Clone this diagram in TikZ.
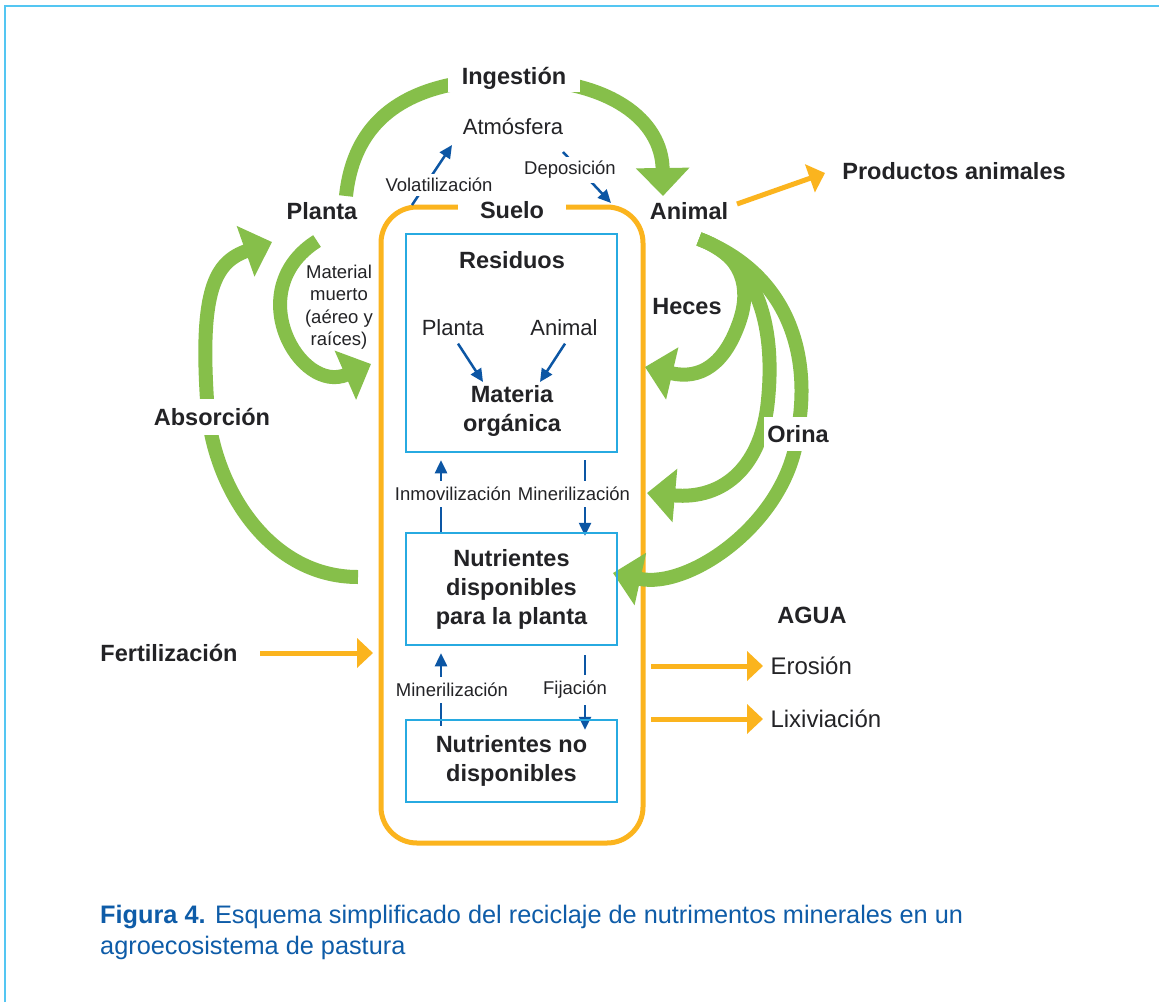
\documentclass[tikz,border=0pt]{standalone}
\usepackage{fontspec}
\setmainfont{Liberation Sans}
\usetikzlibrary{positioning}
\usetikzlibrary{arrows.meta}
\usepackage{xcolor}
\definecolor{leafgreen}{RGB}{134,191,74}
\definecolor{soilorange}{RGB}{251,180,30}
\definecolor{boxblue}{RGB}{39,170,225}
\definecolor{framecyan}{RGB}{84,198,242}
\definecolor{arrowblue}{RGB}{12,86,164}
\definecolor{captionblue}{RGB}{14,92,168}
\definecolor{ink}{RGB}{35,35,38}
\pgfdeclarelayer{soil}
\pgfdeclarelayer{flows}
\pgfsetlayers{soil,flows,main}

\begin{document}
\begin{tikzpicture}[x=1pt, y=-1pt,
	lb/.style={font=\bfseries\fontsize{23.5}{29}\selectfont, text=ink},
	lr/.style={font=\fontsize{22}{27}\selectfont, text=ink},
	lw/.style={font=\fontsize{24}{29}\selectfont, text=ink},
	ls/.style={font=\fontsize{18.5}{22.5}\selectfont, text=ink},
	bx/.style={draw=boxblue, line width=2.5pt, minimum width=211pt},
	gflow/.style={draw=leafgreen, line width=14pt, -{Triangle[width=52pt, length=28pt]}},
	oflow/.style={draw=soilorange, line width=5pt, -{Triangle[width=29pt, length=16pt]}},
	bflow/.style={draw=arrowblue, line width=2.5pt, -{Triangle[width=12pt, length=13pt]}},
	figcap/.style={font=\fontsize{25.3}{31}\selectfont, text=captionblue, anchor=base west, inner sep=0pt}
	]
	\useasboundingbox (0,0) rectangle (1159,1002);

	%Frame and soil
	\begin{pgfonlayer}{soil}
		\fill[white] (0,0) rectangle (1159,1002);
		\draw[framecyan, line width=2.2pt] (5,1002) -- (5,6) -- (1159,6);
		\node[draw=soilorange, line width=5pt, rounded corners=36pt, minimum width=262pt, minimum height=636pt, inner sep=0pt] (suelobox) at (512,525) {};
	\end{pgfonlayer}

	%Nodes
	\node[lb, fill=white, inner xsep=22pt, inner ysep=3pt] (suelo) at (512,210) {Suelo};
	\node[lb, fill=white, inner xsep=14pt] (ingestion) at (514,78) {Ingestión};
	\node[lr] (atmosfera) at (513,127) {Atmósfera};
	\node[ls, fill=white, inner sep=4pt] (volat) at (439,185) {Volatilización};
	\node[ls, fill=white, inner sep=4pt] (depos) at (570,170) {Deposición};
	\node[lb] (planta) at (322,211) {Planta};
	\node[lb] (animal) at (689,211) {Animal};
	\node[lb] (productos) at (954,171) {Productos animales};
	\node[ls, align=center] (muerto) at (339,307) {Material\\muerto\\(aéreo y\\raíces)};
	\node[lb] (heces) at (687,307) {Heces};
	\node[lb, fill=white, inner xsep=3pt, inner ysep=8pt] (orina) at (798,434) {Orina};
	\node[lb, fill=white, inner xsep=3pt, inner ysep=9pt] (absorcion) at (212,417) {Absorción};
	\node[lb] (fertil) at (169,653) {Fertilización};
	\node[lb] (agua) at (812,615) {AGUA};
	\node[lw, anchor=west] (erosion) at (767,666) {Erosión};
	\node[lw, anchor=west] (lixiv) at (767,719) {Lixiviación};

	%Soil boxes
	\node[bx, minimum height=218pt] (residuos) at (511.5,343) {};
	\node[lb] (restitulo) at (512,260) {Residuos};
	\node[lr] (resplanta) at (453,328) {Planta};
	\node[lr] (resanimal) at (564,328) {Animal};
	\node[lb, align=center] (materia) at (512,411) {Materia\\orgánica};
	\node[bx, lb, align=center, minimum height=112pt] (disponibles) at (511.5,589) {Nutrientes\\disponibles\\para la planta};
	\node[bx, lb, align=center, minimum height=82pt] (nodisp) at (511.5,761) {Nutrientes no\\disponibles};
	\node[ls, fill=white, inner xsep=1pt, inner ysep=6pt] (inmov) at (453,494) {Inmovilización};
	\node[ls, fill=white, inner xsep=1pt, inner ysep=6pt] (miner1) at (574,494) {Minerilización};
	\node[ls, fill=white, inner xsep=1pt, inner ysep=6pt] (miner2) at (452,690) {Minerilización};
	\node[ls, fill=white, inner xsep=1pt, inner ysep=6pt] (fijacion) at (575,690) {Fijación};

	%Caption
	\node[figcap] (figtitulo) at (100,923) {\textbf{Figura 4.} Esquema simplificado del reciclaje de nutrimentos minerales en un};
	\node[figcap] (figtitulo2) at (100,954) {agroecosistema de pastura};

	%Ends
	\coordinate (ingA) at (346,196);
	\coordinate (ingB) at (663,196);
	\coordinate (absA) at (358,577);
	\coordinate (absB) at (272,242);
	\coordinate (mueA) at (317,241);
	\coordinate (mueB) at (371,364);
	\coordinate (aniA) at (699,239);
	\coordinate (hecB) at (645,367);
	\coordinate (oriB) at (647,493);
	\coordinate (oriC) at (613,573);
	\coordinate (prodA) at (737,204);
	\coordinate (prodB) at (825,173);
	\coordinate (fertA) at (260,653);
	\coordinate (fertB) at (373,653);
	\coordinate (erosA) at (651,666);
	\coordinate (erosB) at (763,666);
	\coordinate (lixA) at (651,719);
	\coordinate (lixB) at (763,719);
	\coordinate (volA) at (412,205);
	\coordinate (volB) at (452,145);
	\coordinate (depA) at (563,152);
	\coordinate (depB) at (611,203);
	\coordinate (moL) at (483,382);
	\coordinate (moR) at (540,382);

	%Lines
	\begin{pgfonlayer}{flows}
		\draw[gflow] (ingA) .. controls (355,110) and (420,79) .. (512,79) .. controls (610,79) and (662,120) .. (ingB);
		\draw[gflow] (absA) .. controls (265,577) and (210,480) .. (207,400) .. controls (200,290) and (215,262) .. (absB);
		\draw[gflow] (mueA) .. controls (240,290) and (300,395) .. (mueB);
		\draw[gflow] (aniA) .. controls (745,255) and (750,290) .. (740,320) .. controls (725,365) and (700,380) .. (hecB);
		\draw[gflow] (aniA) .. controls (760,262) and (775,330) .. (768,400) .. controls (762,465) and (725,500) .. (oriB);
		\draw[gflow] (aniA) .. controls (785,272) and (812,350) .. (798,430) .. controls (790,520) and (690,590) .. (oriC);

		\draw[oflow] (prodA) -- (prodB);
		\draw[oflow] (fertA) -- (fertB);
		\draw[oflow] (erosA) -- (erosB);
		\draw[oflow] (lixA) -- (lixB);

		\draw[bflow] (volA) -- (volB);
		\draw[bflow] (depA) -- (depB);
		\draw[bflow] ([xshift=5pt, yshift=-4pt]resplanta.south) -- (moL);
		\draw[bflow] ([xshift=1pt, yshift=-4pt]resanimal.south) -- (moR);
		\draw[bflow] ([xshift=-70.5pt]disponibles.north) -- ([xshift=-70.5pt, yshift=-7pt]residuos.south);
		\draw[bflow] ([xshift=73.5pt, yshift=-7pt]residuos.south) -- ([xshift=73.5pt, yshift=-4pt]disponibles.north);
		\draw[bflow] ([xshift=-70.5pt, yshift=-7pt]nodisp.north) -- ([xshift=-70.5pt, yshift=-7pt]disponibles.south);
		\draw[bflow] ([xshift=73.5pt, yshift=-9pt]disponibles.south) -- ([xshift=73.5pt, yshift=-11pt]nodisp.north);
	\end{pgfonlayer}
\end{tikzpicture}
\end{document}
